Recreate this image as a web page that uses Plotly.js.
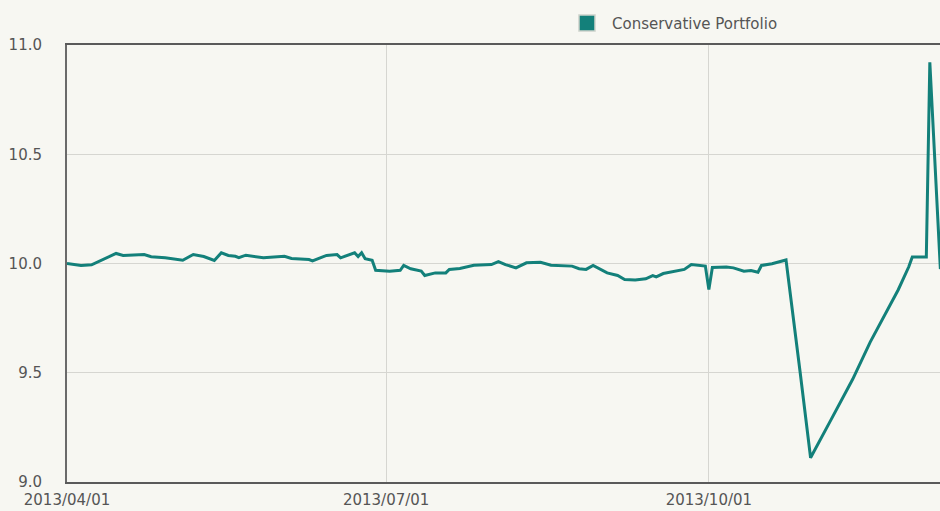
<!DOCTYPE html>
<html>
<head>
<meta charset="utf-8">
<script src="https://cdn.plot.ly/plotly-3.0.1.min.js"></script>
<style>html,body{margin:0;padding:0;background:#f7f7f2;}#chart{width:940px;height:511px;}</style>
</head>
<body>
<div id="chart"></div>
<script>
const seriesName = 'Conservative Portfolio';
const dates = [
 '2013-04-01','2013-04-05','2013-04-08','2013-04-11','2013-04-15','2013-04-17','2013-04-19','2013-04-23','2013-04-25','2013-04-29',
 '2013-05-04','2013-05-07','2013-05-10','2013-05-13','2013-05-15','2013-05-17','2013-05-19','2013-05-20','2013-05-22','2013-05-25',
 '2013-05-27','2013-06-02','2013-06-04','2013-06-09','2013-06-10','2013-06-14','2013-06-17','2013-06-18','2013-06-22','2013-06-23',
 '2013-06-24','2013-06-25','2013-06-27','2013-06-28','2013-07-02','2013-07-05','2013-07-06','2013-07-08','2013-07-11','2013-07-12',
 '2013-07-15','2013-07-18','2013-07-19','2013-07-22','2013-07-26','2013-07-31','2013-08-02','2013-08-04','2013-08-07','2013-08-10',
 '2013-08-14','2013-08-17','2013-08-19','2013-08-23','2013-08-25','2013-08-27','2013-08-29','2013-08-31','2013-09-02','2013-09-05',
 '2013-09-07','2013-09-10','2013-09-13','2013-09-15','2013-09-16','2013-09-18','2013-09-21','2013-09-24','2013-09-26','2013-09-29',
 '2013-09-30','2013-10-01','2013-10-02','2013-10-06','2013-10-08','2013-10-11','2013-10-13','2013-10-15','2013-10-16','2013-10-19',
 '2013-10-23','2013-10-27','2013-10-30','2013-11-05','2013-11-11','2013-11-16','2013-11-24','2013-11-27','2013-11-28','2013-12-02',
 '2013-12-03','2013-12-06','2013-12-07'
];
const values = [
 10.000,9.991,9.994,10.015,10.046,10.037,10.039,10.041,10.031,10.026,
 10.015,10.041,10.032,10.014,10.049,10.037,10.033,10.027,10.038,10.029,
 10.026,10.033,10.023,10.018,10.012,10.037,10.041,10.026,10.049,10.032,
 10.049,10.022,10.015,9.969,9.965,9.969,9.991,9.976,9.965,9.945,
 9.957,9.957,9.973,9.977,9.992,9.995,10.009,9.995,9.980,10.003,
 10.006,9.992,9.991,9.988,9.976,9.973,9.991,9.973,9.957,9.945,
 9.927,9.924,9.930,9.945,9.939,9.954,9.963,9.973,9.995,9.988,
 9.988,9.881,9.982,9.984,9.980,9.965,9.968,9.960,9.991,9.999,
 10.016,9.506,9.111,9.290,9.470,9.640,9.880,9.985,10.030,10.030,
 10.921,9.975,10.000
];
const xRange = ['2013-04-01','2013-12-05 21:36'];
const yRange = [9, 11];

const lineColor = '#13807a';
const txt = '#555555';

const traces = [
  {x: dates, y: values, type: 'scatter', mode: 'lines', name: seriesName, showlegend: false,
   line: {color: lineColor, width: 3}, hoverinfo: 'x+y'},
  {x: [null], y: [null], type: 'scatter', mode: 'markers', name: seriesName, showlegend: true,
   marker: {symbol: 'square', size: 17, color: lineColor, line: {color: '#cdd2cb', width: 1.5}}}
];

const layout = {
  width: 940, height: 511,
  margin: {l: 67, r: 0, t: 45, b: 29, pad: 0},
  paper_bgcolor: '#f7f7f2', plot_bgcolor: '#f7f7f2',
  font: {family: 'DejaVu Sans, sans-serif', size: 15, color: txt},
  showlegend: true,
  legend: {x: 0.567, xanchor: 'left', y: 1.05, yanchor: 'middle', orientation: 'h', itemwidth: 40,
    bgcolor: 'rgba(0,0,0,0)', font: {family: 'DejaVu Sans, sans-serif', size: 15, color: txt}},
  xaxis: {type: 'date', range: xRange, tick0: '2013-04-01', dtick: 'M3', tickformat: '%Y/%m/%d',
    showgrid: true, gridcolor: '#d6d6d1', gridwidth: 1,
    showline: true, linecolor: '#5a5a5a', linewidth: 2, mirror: true,
    ticks: '', ticklabelstandoff: 3, zeroline: false, automargin: false,
    tickfont: {family: 'DejaVu Sans, sans-serif', size: 15, color: txt}},
  yaxis: {range: yRange, dtick: 0.5, tick0: 9, tickformat: '.1f',
    showgrid: true, gridcolor: '#d6d6d1', gridwidth: 1,
    showline: true, linecolor: '#6a6a6a', linewidth: 2,
    ticks: '', ticklabelstandoff: 20, zeroline: false, automargin: false,
    tickfont: {family: 'DejaVu Sans, sans-serif', size: 15, color: txt}}
};

Plotly.newPlot('chart', traces, layout, {displayModeBar: false, staticPlot: true});
</script>
</body>
</html>
